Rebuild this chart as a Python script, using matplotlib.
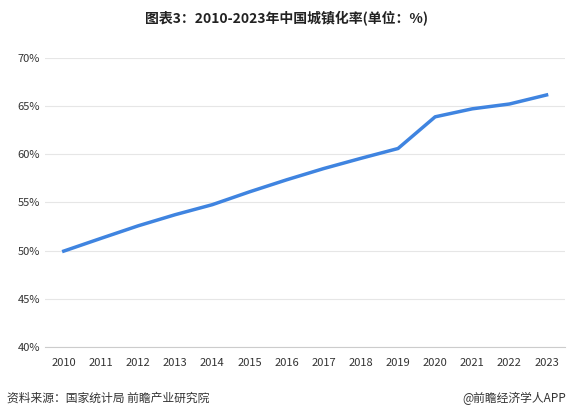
import matplotlib
matplotlib.use('Agg')
import matplotlib.pyplot as plt
from matplotlib.ticker import FuncFormatter

plt.rcParams['font.family'] = ['Noto Sans CJK SC', 'DejaVu Sans']

years = [2010, 2011, 2012, 2013, 2014, 2015, 2016, 2017, 2018, 2019, 2020, 2021, 2022, 2023]
rate = [49.95, 51.27, 52.57, 53.73, 54.77, 56.10, 57.35, 58.52, 59.58, 60.60, 63.89, 64.72, 65.22, 66.16]

fig = plt.figure(figsize=(5.72, 4.17), dpi=100)
ax = fig.add_axes([0.079, 0.168, 0.909, 0.693])
ax.plot(years, rate, color='#3f84e0', lw=2.5)
ax.set_xlim(2009.5, 2023.5)
ax.set_ylim(40, 70)
ax.set_yticks(range(40, 71, 5))
ax.yaxis.set_major_formatter(FuncFormatter(lambda v, p: f'{int(v)}%'))
ax.set_xticks(years)
ax.grid(axis='y', color='#e6e6e6', lw=0.8)
for s in ['top', 'right', 'left']:
    ax.spines[s].set_visible(False)
ax.spines['bottom'].set_color('#cccccc')
ax.tick_params(axis='both', length=0, labelsize=8, colors='#333333')
ax.tick_params(axis='x', pad=8)
fig.text(0.5, 0.955, '图表3：2010-2023年中国城镇化率(单位：%)', ha='center', va='center',
         fontsize=10, fontweight='bold', color='#222222')
fig.text(0.012, 0.045, '资料来源：国家统计局 前瞻产业研究院', ha='left', va='center', fontsize=8.5, color='#333333')
fig.text(0.99, 0.045, '@前瞻经济学人APP', ha='right', va='center', fontsize=8.5, color='#333333')
fig.savefig('out.png', dpi=100)
